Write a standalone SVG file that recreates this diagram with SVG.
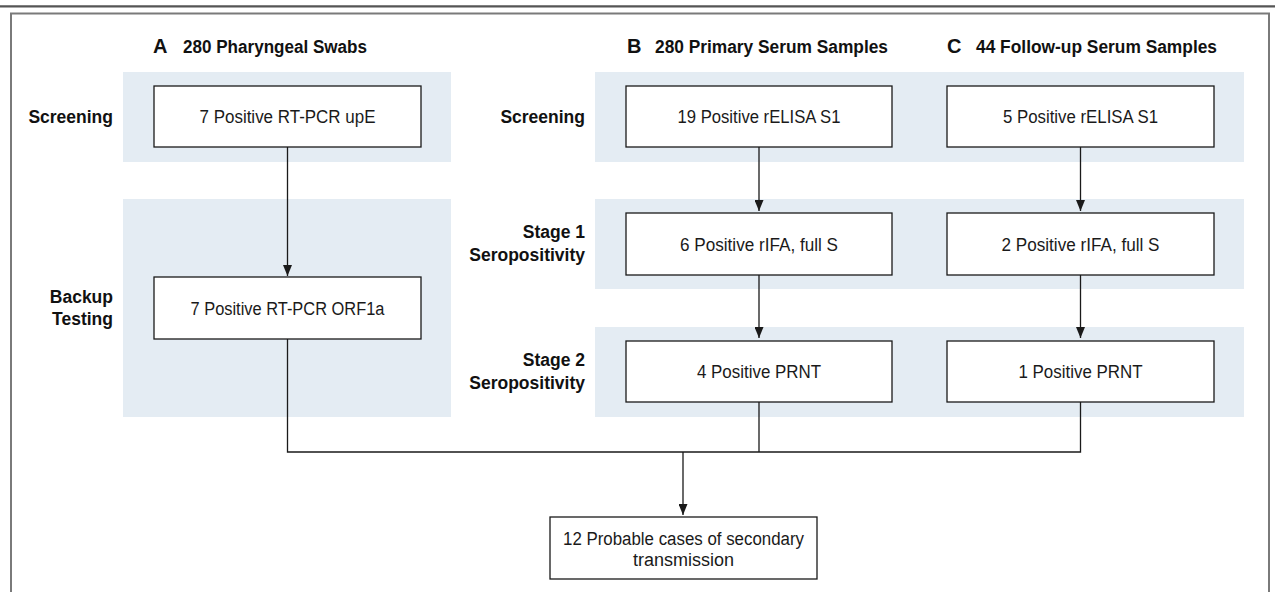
<svg xmlns="http://www.w3.org/2000/svg" width="1275" height="592" viewBox="0 0 1275 592">
<style>
.band{fill:#e4ecf3}
.box{fill:#fff;stroke:#1a1a1a;stroke-width:1.3}
.t{font-family:"Liberation Sans",Arial,sans-serif;font-size:18px;fill:#1a1a1a;text-anchor:middle}
.h{font-family:"Liberation Sans",Arial,sans-serif;font-size:18px;font-weight:bold;fill:#111}
.hl{font-family:"Liberation Sans",Arial,sans-serif;font-size:20px;font-weight:bold;fill:#111}
.rl{font-family:"Liberation Sans",Arial,sans-serif;font-size:17.5px;font-weight:bold;fill:#111;text-anchor:end}
.c{fill:none;stroke:#1a1a1a;stroke-width:1.3}
</style>
<defs>
<marker id="arr" markerUnits="userSpaceOnUse" markerWidth="12" markerHeight="9" refX="11" refY="4.5" orient="auto" viewBox="0 0 12 9">
<path d="M0,0 L11,4.5 L0,9 Z" fill="#1a1a1a"/>
</marker>
</defs>
<rect width="1275" height="592" fill="#fff"/>
<line x1="0" y1="6.3" x2="1275" y2="6.3" stroke="#555" stroke-width="2.2"/>
<path d="M11,600 V13.5 H1269 V600" fill="none" stroke="#7a7a7a" stroke-width="2"/>

<g id="bands">
<rect class="band" x="123" y="72" width="328" height="90"/>
<rect class="band" x="123" y="199" width="328" height="218"/>
<rect class="band" x="595" y="72" width="649" height="90"/>
<rect class="band" x="595" y="199" width="649" height="90"/>
<rect class="band" x="595" y="327" width="649" height="90"/>
</g>

<g id="headings">
<text class="hl" x="153" y="53">A</text><text class="h" x="183" y="53" textLength="184" lengthAdjust="spacingAndGlyphs">280 Pharyngeal Swabs</text>
<text class="hl" x="627" y="53">B</text><text class="h" x="655" y="53" textLength="233" lengthAdjust="spacingAndGlyphs">280 Primary Serum Samples</text>
<text class="hl" x="947" y="53">C</text><text class="h" x="976" y="53" textLength="241" lengthAdjust="spacingAndGlyphs">44 Follow-up Serum Samples</text>
</g>

<g id="rowlabels">
<text class="rl" x="113" y="123">Screening</text>
<text class="rl" x="113" y="303">Backup</text>
<text class="rl" x="113" y="325">Testing</text>
<text class="rl" x="585" y="123">Screening</text>
<text class="rl" x="585" y="238">Stage 1</text>
<text class="rl" x="585" y="261">Seropositivity</text>
<text class="rl" x="585" y="366">Stage 2</text>
<text class="rl" x="585" y="389">Seropositivity</text>
</g>

<g id="connectors">
<line class="c" x1="287.5" y1="147" x2="287.5" y2="276" marker-end="url(#arr)"/>
<line class="c" x1="759" y1="147" x2="759" y2="211" marker-end="url(#arr)"/>
<line class="c" x1="1080.5" y1="147" x2="1080.5" y2="211" marker-end="url(#arr)"/>
<line class="c" x1="759" y1="275" x2="759" y2="338" marker-end="url(#arr)"/>
<line class="c" x1="1080.5" y1="275" x2="1080.5" y2="338" marker-end="url(#arr)"/>
<path class="c" d="M287.5,339 V452 H1080.5 V402"/>
<line class="c" x1="759" y1="402" x2="759" y2="452"/>
<line class="c" x1="683" y1="452" x2="683" y2="515" marker-end="url(#arr)"/>
</g>

<g id="nodeA1"><rect class="box" x="154" y="86" width="267" height="61"/><text class="t" x="287.5" y="123" textLength="176" lengthAdjust="spacingAndGlyphs">7 Positive RT-PCR upE</text></g>
<g id="nodeA2"><rect class="box" x="154" y="277" width="267" height="62"/><text class="t" x="287.5" y="314.5" textLength="194" lengthAdjust="spacingAndGlyphs">7 Positive RT-PCR ORF1a</text></g>
<g id="nodeB1"><rect class="box" x="626" y="86" width="266" height="61"/><text class="t" x="759" y="123" textLength="163" lengthAdjust="spacingAndGlyphs">19 Positive rELISA S1</text></g>
<g id="nodeC1"><rect class="box" x="947" y="86" width="267" height="61"/><text class="t" x="1080.5" y="123" textLength="155" lengthAdjust="spacingAndGlyphs">5 Positive rELISA S1</text></g>
<g id="nodeB2"><rect class="box" x="626" y="213" width="266" height="62"/><text class="t" x="759" y="250.5" textLength="158" lengthAdjust="spacingAndGlyphs">6 Positive rIFA, full S</text></g>
<g id="nodeC2"><rect class="box" x="947" y="213" width="267" height="62"/><text class="t" x="1080.5" y="250.5" textLength="158" lengthAdjust="spacingAndGlyphs">2 Positive rIFA, full S</text></g>
<g id="nodeB3"><rect class="box" x="626" y="341" width="266" height="61"/><text class="t" x="759" y="378" textLength="124" lengthAdjust="spacingAndGlyphs">4 Positive PRNT</text></g>
<g id="nodeC3"><rect class="box" x="947" y="341" width="267" height="61"/><text class="t" x="1080.5" y="378" textLength="124" lengthAdjust="spacingAndGlyphs">1 Positive PRNT</text></g>
<g id="nodeFinal"><rect class="box" x="550" y="517" width="267" height="62"/><text class="t" x="683.5" y="544.5" textLength="241" lengthAdjust="spacingAndGlyphs">12 Probable cases of secondary</text><text class="t" x="683.5" y="565.5" textLength="101" lengthAdjust="spacingAndGlyphs">transmission</text></g>
</svg>
